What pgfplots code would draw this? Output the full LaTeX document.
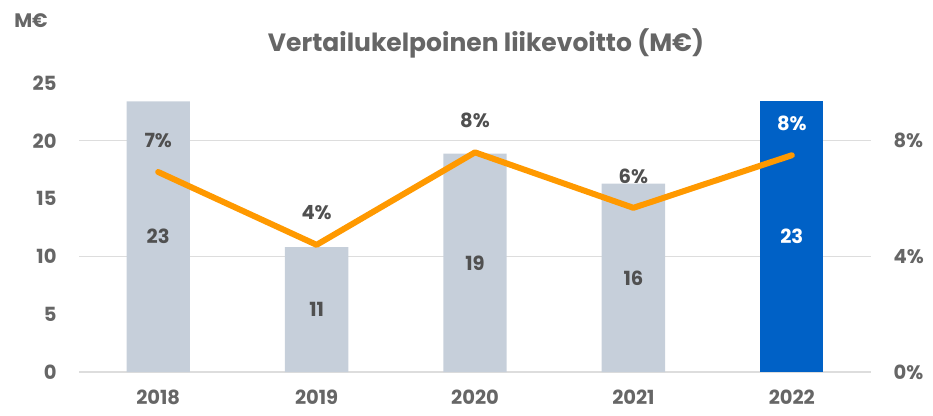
\documentclass[border=0pt]{standalone}
\usepackage{pgfplots}
\pgfplotsset{compat=1.18}
\usepackage{fontspec}
\setmainfont{Poppins}
\definecolor{txt}{HTML}{666666}
\definecolor{dtxt}{HTML}{505050}
\definecolor{barg}{HTML}{C6CFDA}
\definecolor{barb}{HTML}{0061C6}
\definecolor{org}{HTML}{FF9900}
\definecolor{gridc}{HTML}{DDDDDD}
\newcommand{\lf}{\fontsize{19.5}{22}\selectfont\bfseries}
\begin{document}
\begin{tikzpicture}[x=1pt,y=1pt]
\path (0,0) rectangle (933,415);
\node[txt, font=\fontsize{25}{28}\selectfont\bfseries] at (486,372) {Vertailukelpoinen liikevoitto (M€)};
\node[txt, font=\lf] at (31,394) {M€};
\begin{axis}[
  at={(79pt,43pt)}, anchor=south west,
  scale only axis, width=792pt, height=289pt,
  xmin=-0.5, xmax=4.5, ymin=0, ymax=25,
  xtick={0,1,2,3,4}, xticklabels={2018,2019,2020,2021,2022},
  ytick={0,5,10,15,20,25},
  minor ytick={0,10,20}, yminorgrids,
  minor grid style={gridc, line width=1.3pt},
  axis line style={draw=none},
  major tick length=0pt, minor tick length=0pt,
  tick style={draw=none},
  ticklabel style={font=\lf, text=txt},
  yticklabel style={xshift=-19pt},
  xticklabel style={yshift=-14pt},
  /pgf/number format/assume math mode=true,
  bar width=0.4, clip=false,
]
\addplot[ybar, bar shift=0pt, fill=barg, draw=none] coordinates {(0,23.4) (1,10.8) (2,18.9) (3,16.3)};
\addplot[ybar, bar shift=0pt, fill=barb, draw=none] coordinates {(4,23.4)};
\addplot[draw=none, mark=none, nodes near coords, point meta=explicit symbolic,
  every node near coord/.append style={font=\lf, text=dtxt, anchor=center}]
  table[meta=lab] {
x y lab
0 11.7 23
1 5.4 11
2 9.45 19
3 8.15 16
};
\addplot[draw=none, mark=none, nodes near coords, point meta=explicit symbolic,
  every node near coord/.append style={font=\lf, text=white, anchor=center}]
  table[meta=lab] {
x y lab
4 11.7 23
};
\end{axis}
\begin{axis}[
  at={(79pt,43pt)}, anchor=south west,
  scale only axis, width=792pt, height=289pt,
  xmin=-0.5, xmax=4.5, ymin=0, ymax=10,
  axis y line*=right, hide x axis,
  ytick={0,4,8}, yticklabels={0\%,4\%,8\%},
  axis line style={draw=none},
  major tick length=0pt, tick style={draw=none},
  yticklabel style={font=\lf, text=txt, xshift=19pt},
  clip=false,
]
\addplot[org, line width=6pt, line cap=round, line join=round, mark=none] coordinates {(0,6.92) (1,4.4) (2,7.6) (3,5.68) (4,7.5)};
\addplot[draw=none, mark=none, nodes near coords, point meta=explicit symbolic,
  every node near coord/.append style={font=\lf, text=dtxt, anchor=center, yshift=32pt}]
  table[meta=lab] {
x y lab
0 6.92 7\%
1 4.4 4\%
2 7.6 8\%
3 5.68 6\%
};
\addplot[draw=none, mark=none, nodes near coords, point meta=explicit symbolic,
  every node near coord/.append style={font=\lf, text=white, anchor=center, yshift=32pt}]
  table[meta=lab] {
x y lab
4 7.5 8\%
};
\end{axis}
\end{tikzpicture}
\end{document}
